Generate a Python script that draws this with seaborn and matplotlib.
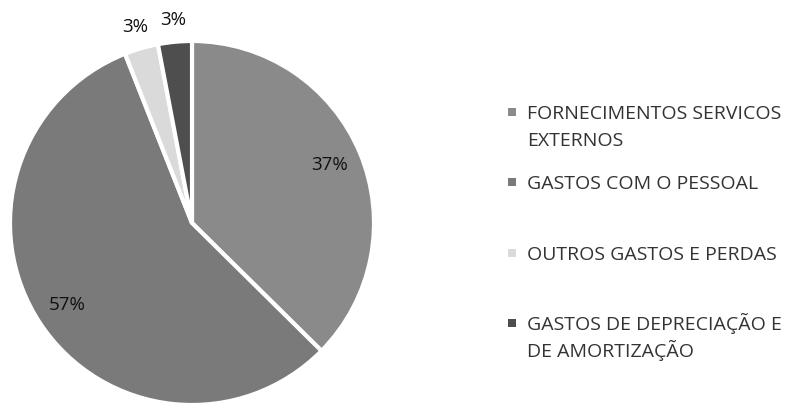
import matplotlib
matplotlib.use("Agg")
import matplotlib.pyplot as plt
import seaborn as sns
from matplotlib.patches import Rectangle

# Data
categories = [
    "FORNECIMENTOS SERVICOS\nEXTERNOS",
    "GASTOS COM O PESSOAL",
    "OUTROS GASTOS E PERDAS",
    "GASTOS DE DEPRECIAÇÃO E\nDE AMORTIZAÇÃO",
]
shares = [37.4, 56.6, 3.0, 3.0]
colors = ["#8a8a8a", "#7a7a7a", "#dadada", "#4e4e4e"]

sns.set_theme(style="white")
plt.rcParams["font.family"] = ["Open Sans", "DejaVu Sans"]

W, H = 789, 404
fig = plt.figure(figsize=(W / 100, H / 100), dpi=100)

# pie placement in pixels
cx, cy, r = 192, 223, 182
ax = fig.add_axes([(cx - r) / W, (H - cy - r) / H, 2 * r / W, 2 * r / H])

wedges, texts, autotexts = ax.pie(
    shares, colors=colors, startangle=90, counterclock=False,
    autopct="%.0f%%", pctdistance=0.82,
    wedgeprops=dict(edgecolor="white", linewidth=3),
    textprops=dict(fontsize=13.5, color="#111111"),
)
ax.set_xlim(-1, 1)
ax.set_ylim(-1, 1)
ax.set_aspect("equal")

# small slices get their labels outside, like Excel's best fit
for t, v in zip(autotexts, shares):
    t.set_clip_on(False)
    if v < 5:
        x, y = t.get_position()
        t.set_position((x * 1.12 / 0.82, y * 1.12 / 0.82))

# legend drawn by hand to copy the even spacing
mark_x, text_x = 512, 527
first_y = 112
step = 70.3
line_h = 27.5
for i, (lab, col) in enumerate(zip(categories, colors)):
    yc = first_y + i * step
    fig.add_artist(Rectangle(((mark_x - 4) / W, (H - yc - 4) / H), 8 / W, 8 / H,
                             transform=fig.transFigure, facecolor=col,
                             edgecolor="none"))
    for j, part in enumerate(lab.split("\n")):
        fig.text(text_x / W, (H - yc - 7 - j * line_h) / H, part, fontsize=14,
                 color="#333333", va="baseline", ha="left")

fig.savefig("out.png", dpi=100)
